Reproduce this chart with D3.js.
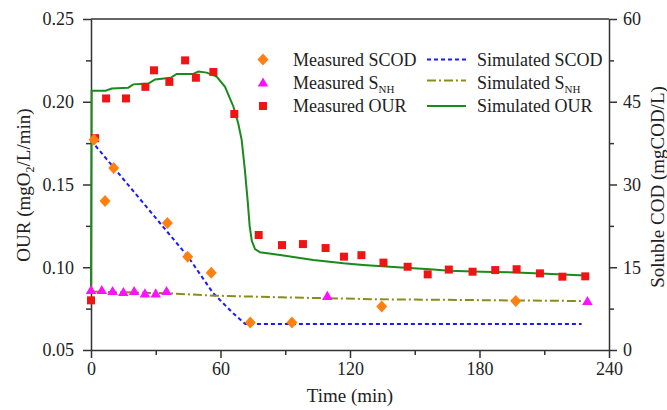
<!DOCTYPE html>
<html><head><meta charset="utf-8">
<script src="https://cdn.jsdelivr.net/npm/d3@7"></script>
<style>body{margin:0;background:#fff}svg{display:block}text{font-family:"Liberation Serif","Times New Roman",serif;fill:#222}</style>
</head><body><svg id="c" width="667" height="410"></svg>
<script>
// ---- data ----
const ourTime = [0, 1.9, 7, 16.2, 25.2, 29.2, 36.3, 43.6, 48.6, 56.7, 66.4, 77.7, 88.5, 98.2, 108.7, 117.2, 125.3, 135.5, 146.7, 156, 165.8, 176.8, 187.3, 197.2, 208, 218.4, 229];
const ourMeasured = [0.080, 0.178, 0.202, 0.202, 0.209, 0.219, 0.212, 0.225, 0.2145, 0.218, 0.1926, 0.1195, 0.1134, 0.114, 0.1116, 0.1064, 0.1073, 0.1028, 0.1003, 0.0957, 0.0986, 0.0973, 0.0983, 0.0988, 0.0963, 0.0943, 0.0945];
const scodTime = [1.4, 6.5, 10.5, 35.4, 44.8, 55.7, 73.8, 93.1, 134.7, 196.8];
const scodMeasured = [38.1, 27.0, 33.0, 23.0, 16.9, 14.0, 5.0, 5.0, 7.9, 8.9];
const snhTime = [0, 5, 10, 15, 20, 25, 30, 35, 109.5, 230];
const snhMeasured = [10.88, 10.88, 10.69, 10.51, 10.69, 10.27, 10.27, 10.69, 9.8, 8.88];
const simScodTime = [0, 45, 56.6, 66, 71.5, 227.3];
const simScod = [38.0, 16.9, 10.3, 6.6, 4.7, 4.7];
const simSnhTime = [0, 35, 57, 88, 134, 228];
const simSnh = [10.6, 10.28, 9.85, 9.55, 9.19, 8.88];
const simOurTime = [0, 0.3, 6.8, 9.6, 17.3, 19.6, 26.6, 29.7, 36.9, 39.7, 47.4, 49.7, 53.6, 58.2, 62.1, 66, 68.2, 69.8, 71.2, 72.6, 73.5, 74.5, 76, 78.3, 87.6, 103, 117, 126, 142, 157, 166, 177, 186, 197, 211, 228.8];
const simOur = [0.086, 0.2067, 0.2067, 0.208, 0.2085, 0.2105, 0.211, 0.2135, 0.2145, 0.2168, 0.2168, 0.2182, 0.2176, 0.2152, 0.209, 0.197, 0.187, 0.177, 0.160, 0.140, 0.125, 0.116, 0.111, 0.109, 0.1074, 0.1044, 0.1024, 0.1014, 0.100, 0.0988, 0.0979, 0.0975, 0.0972, 0.0968, 0.0960, 0.0950];
const xTicks = [0, 60, 120, 180, 240];
const xMinor = [30, 90, 150, 210];
const yLTicks = [0.05, 0.10, 0.15, 0.20, 0.25];
const yLMinor = [0.075, 0.125, 0.175, 0.225];
const yRTicks = [0, 15, 30, 45, 60];
const yRMinor = [7.5, 22.5, 37.5, 52.5];

// ---- layout ----
const svg = d3.select("#c");
const L = 91, R = 609, T = 19, B = 350;
const x = d3.scaleLinear().domain([0, 240]).range([L, R]);
const yL = d3.scaleLinear().domain([0.05, 0.25]).range([B, T]);
const yR = d3.scaleLinear().domain([0, 60]).range([B, T]);
const axisColor = "#333";
const fs = 18;

function styleAxis(g) {
  g.selectAll("path,line").attr("stroke", axisColor).attr("stroke-width", 1.5);
  g.selectAll("text").style("font-size", fs + "px").attr("fill", "#222");
}
svg.append("line").attr("x1", L).attr("x2", R).attr("y1", T).attr("y2", T).attr("stroke", axisColor).attr("stroke-width", 1.5);

svg.append("g").attr("transform", `translate(0,${B})`).call(d3.axisBottom(x).tickValues(xMinor).tickSize(5).tickFormat("")).call(styleAxis).select(".domain").remove();
svg.append("g").attr("transform", `translate(${L},0)`).call(d3.axisLeft(yL).tickValues(yLMinor).tickSize(5).tickFormat("")).call(styleAxis).select(".domain").remove();
svg.append("g").attr("transform", `translate(${R},0)`).call(d3.axisRight(yR).tickValues(yRMinor).tickSize(5).tickFormat("")).call(styleAxis).select(".domain").remove();
svg.append("g").attr("transform", `translate(0,${B})`).call(d3.axisBottom(x).tickValues(xTicks).tickSize(8).tickSizeOuter(0).tickPadding(4).tickFormat(d3.format("d"))).call(styleAxis);
svg.append("g").attr("transform", `translate(${L},0)`).call(d3.axisLeft(yL).tickValues(yLTicks).tickSize(8).tickSizeOuter(0).tickPadding(9).tickFormat(d3.format(".2f"))).call(styleAxis);
svg.append("g").attr("transform", `translate(${R},0)`).call(d3.axisRight(yR).tickValues(yRTicks).tickSize(8).tickSizeOuter(0).tickPadding(6).tickFormat(d3.format("d"))).call(styleAxis);

svg.append("text").attr("x", (L + R) / 2).attr("y", 402).attr("text-anchor", "middle").style("font-size", "19px").text("Time (min)");
const lt = svg.append("text").attr("transform", "translate(30,185) rotate(-90)").attr("text-anchor", "middle").style("font-size", "19px");
lt.append("tspan").text("OUR (mgO");
lt.append("tspan").attr("dy", 4).style("font-size", "12px").text("2");
lt.append("tspan").attr("dy", -4).text("/L/min)");
svg.append("text").attr("transform", "translate(664,187) rotate(-90)").attr("text-anchor", "middle").style("font-size", "19px").text("Soluble COD (mgCOD/L)");

const line = d3.line();
function pts(ts, vs, ys) { return ts.map((t, i) => [x(t), ys(vs[i])]); }
svg.append("path").attr("d", line(pts(simScodTime, simScod, yR))).attr("fill", "none").attr("stroke", "#1a1aff").attr("stroke-width", 2).attr("stroke-dasharray", "4,3");
svg.append("path").attr("d", line(pts(simSnhTime, simSnh, yR))).attr("fill", "none").attr("stroke", "#8c8c1a").attr("stroke-width", 2).attr("stroke-dasharray", "9,3,2,3");
svg.append("path").attr("d", line(pts(simOurTime, simOur, yL))).attr("fill", "none").attr("stroke", "#1a8a1a").attr("stroke-width", 2);

const sq = d3.symbol().type(d3.symbolSquare).size(64);
const tri = d3.symbol().type(d3.symbolTriangle).size(48);
const dia = "M0,-6L5.5,0L0,6L-5.5,0Z";
const red = "#f01414", mag = "#ff10ff", org = "#ff8010";
svg.append("g").selectAll("path").data(ourTime).join("path").attr("d", sq).attr("fill", red)
  .attr("transform", (t, i) => `translate(${x(t)},${yL(ourMeasured[i])})`);
svg.append("g").selectAll("path").data(snhTime).join("path").attr("d", tri).attr("fill", mag)
  .attr("transform", (t, i) => `translate(${x(t)},${yR(snhMeasured[i]) + 1})`);
svg.append("g").selectAll("path").data(scodTime).join("path").attr("d", dia).attr("fill", org)
  .attr("transform", (t, i) => `translate(${x(t)},${yR(scodMeasured[i])})`);

const rows = [59.5, 82.5, 106];
const lg = svg.append("g");
lg.append("path").attr("d", dia).attr("fill", org).attr("transform", `translate(263,${rows[0]})`);
lg.append("path").attr("d", tri).attr("fill", mag).attr("transform", `translate(263,${rows[1] + 1})`);
lg.append("path").attr("d", sq).attr("fill", red).attr("transform", `translate(263,${rows[2]})`);
function legText(xp, y, main, sub) {
  const t = lg.append("text").attr("x", xp).attr("y", y).attr("dy", "0.35em").style("font-size", fs + "px");
  t.append("tspan").text(main);
  if (sub) { t.append("tspan").attr("dy", 4).style("font-size", "11px").text(sub); }
  return t;
}
legText(293, rows[0], "Measured SCOD");
legText(293, rows[1], "Measured S", "NH");
legText(293, rows[2], "Measured OUR");
lg.append("line").attr("x1", 427).attr("x2", 466).attr("y1", rows[0]).attr("y2", rows[0]).attr("stroke", "#1a1aff").attr("stroke-width", 2).attr("stroke-dasharray", "4,3");
lg.append("line").attr("x1", 427).attr("x2", 466).attr("y1", rows[1] - 2).attr("y2", rows[1] - 2).attr("stroke", "#8c8c1a").attr("stroke-width", 2).attr("stroke-dasharray", "9,3,2,3");
lg.append("line").attr("x1", 427).attr("x2", 466).attr("y1", rows[2]).attr("y2", rows[2]).attr("stroke", "#1a8a1a").attr("stroke-width", 2);
legText(477, rows[0], "Simulated SCOD");
legText(477, rows[1], "Simulated S", "NH");
legText(477, rows[2], "Simulated OUR");
</script></body></html>
